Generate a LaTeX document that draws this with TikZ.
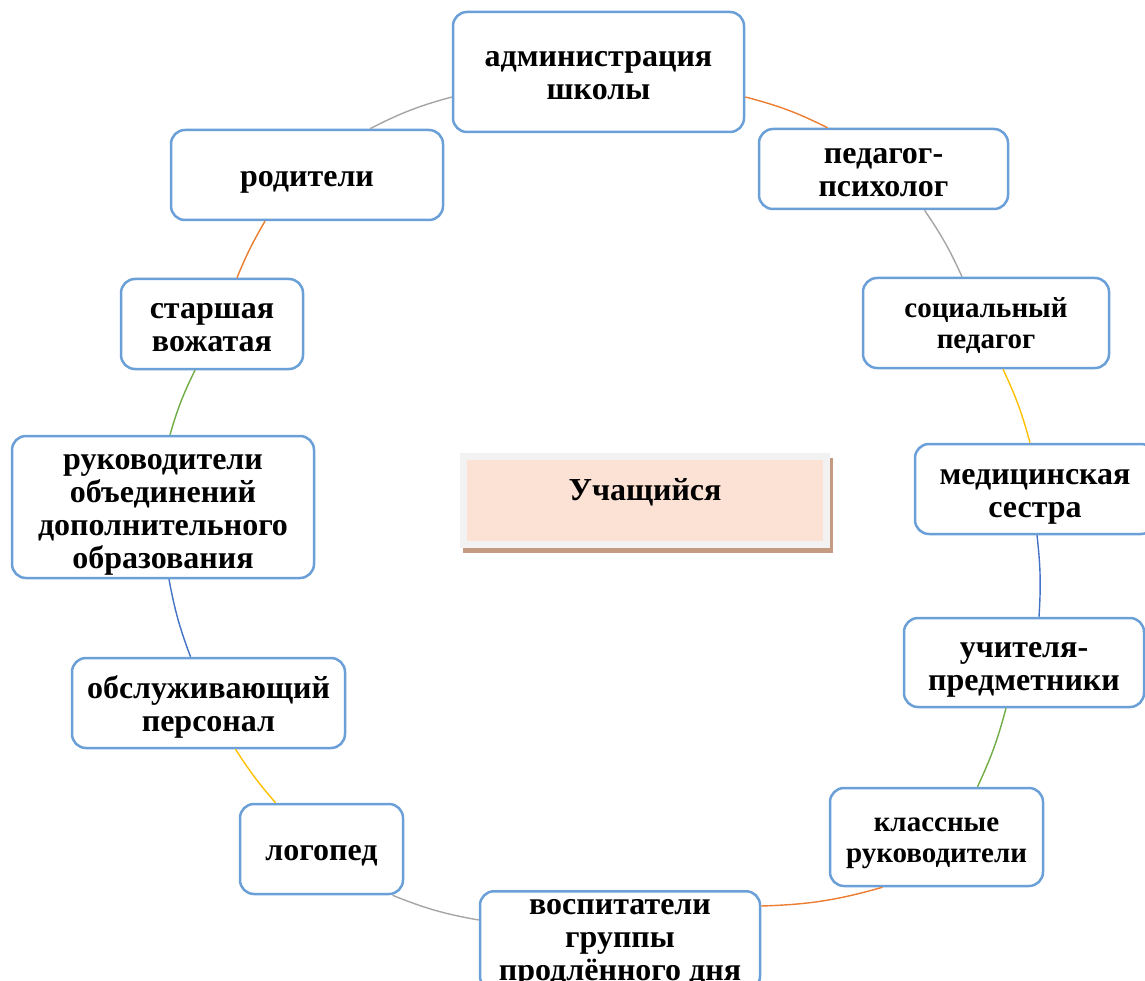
\documentclass[tikz,border=0pt]{standalone}
\usepackage{fontspec}
\setmainfont{Liberation Serif}
\usetikzlibrary{backgrounds}
\definecolor{cOr}{HTML}{ED7D31}
\definecolor{cGy}{HTML}{A5A5A5}
\definecolor{cYe}{HTML}{FFC000}
\definecolor{cBl}{HTML}{4472C4}
\definecolor{cGn}{HTML}{70AD47}
\definecolor{boxblue}{HTML}{6A9FD8}
\definecolor{peach}{HTML}{FBE2D5}
\definecolor{framegray}{HTML}{F2F2F2}
\definecolor{shadowbrown}{HTML}{C49A80}
\newcommand{\mytop}{\rule{0pt}{31pt}}
\newcommand{\mybot}{\rule[-8pt]{0pt}{0pt}}
\newcommand{\mytops}{\rule{0pt}{27pt}}
\newcommand{\mybots}{\rule[-7pt]{0pt}{0pt}}
\begin{document}
\begin{tikzpicture}[x=1pt,y=-1pt,
  box/.style={draw=boxblue, line width=2.5pt, fill=white, rounded corners=14pt,
    align=center, inner sep=2pt, font=\fontsize{32}{33}\selectfont\bfseries},
  smallbox/.style={box, font=\fontsize{29}{31}\selectfont\bfseries},
  link/.style={line width=1.4pt}]
\clip (0,0) rectangle (1145,981);
\node[box, minimum width=291pt, minimum height=120pt] (admin) at (598.5,72) {\mytop администрация\\школы\mybot};
\node[box, minimum width=249pt, minimum height=80pt] (ped) at (883.5,169) {\mytop педагог-\\психолог\mybot};
\node[smallbox, minimum width=246pt, minimum height=90pt] (soc) at (986,323) {\mytops социальный\\педагог\mybots};
\node[box, minimum width=240pt, minimum height=90pt, text width=220pt] (med) at (1035,489) {\mytop медицинская\\сестра\mybot};
\node[box, minimum width=240pt, minimum height=89pt] (uch) at (1024,662.5) {\mytop учителя-\\предметники\mybot};
\node[smallbox, minimum width=213pt, minimum height=98pt] (klass) at (936.5,837) {\mytops классные\\руководители\mybots};
\node[box, minimum width=280pt, minimum height=90pt, anchor=north] (vosp) at (620,890) {\rule{0pt}{21pt}воспитатели\\группы\\продлённого дня\mybot};
\node[box, minimum width=163pt, minimum height=90pt] (log) at (321.5,849) {\mytop логопед\mybot};
\node[box, minimum width=273pt, minimum height=90pt] (obsl) at (208.5,703) {\mytop обслуживающий\\персонал\mybot};
\node[box, minimum width=302pt, minimum height=142pt] (ruk) at (163,507) {\mytop руководители\\объединений\\дополнительного\\образования\mybot};
\node[box, minimum width=182pt, minimum height=90pt] (star) at (212,324) {\mytop старшая\\вожатая\mybot};
\node[box, minimum width=272pt, minimum height=90pt] (rod) at (307,175) {\mytop родители\mybot};
\node[draw=framegray, fill=peach, line width=7pt, minimum width=363pt, minimum height=88pt,
  text depth=22pt, font=\fontsize{32}{33}\selectfont\bfseries] (pupil) at (645,500.5) {Учащийся};
\begin{scope}[on background layer]
\fill[shadowbrown] ([shift={(3,5)}]pupil.north west) rectangle ([shift={(3,5)}]pupil.south east);
\end{scope}
\draw[link,cOr] ([yshift=-25pt]admin.east) to[bend left=6] ([xshift=-56pt]ped.north);
\draw[link,cGy] ([xshift=41pt]ped.south) to[bend left=5] ([xshift=-24pt]soc.north);
\draw[link,cYe] ([xshift=17pt]soc.south) to[bend left=5] ([xshift=-5pt]med.north);
\draw[link,cBl] ([xshift=2pt]med.south) to[bend left=5] ([xshift=15pt]uch.north);
\draw[link,cGn] ([xshift=-18pt]uch.south) to[bend left=5] ([xshift=41pt]klass.north);
\draw[link,cOr] ([xshift=-54pt]klass.south) to[bend left=7] ([yshift=-16pt]vosp.north east);
\draw[link,cGy] ([yshift=-30pt]vosp.north west) to[bend left=6] ([xshift=71pt]log.south);
\draw[link,cYe] ([xshift=-46pt]log.north) to[bend left=4] ([xshift=27pt]obsl.south);
\draw[link,cBl] ([xshift=-18pt]obsl.north) to[bend left=5] ([xshift=6pt]ruk.south);
\draw[link,cGn] ([xshift=7pt]ruk.north) to[bend left=5] ([xshift=-17pt]star.south);
\draw[link,cOr] ([xshift=25pt]star.north) to[bend left=4] ([xshift=-42pt]rod.south);
\draw[link,cGy] ([xshift=63pt]rod.north) to[bend left=6] ([yshift=-25pt]admin.west);
\end{tikzpicture}
\end{document}
